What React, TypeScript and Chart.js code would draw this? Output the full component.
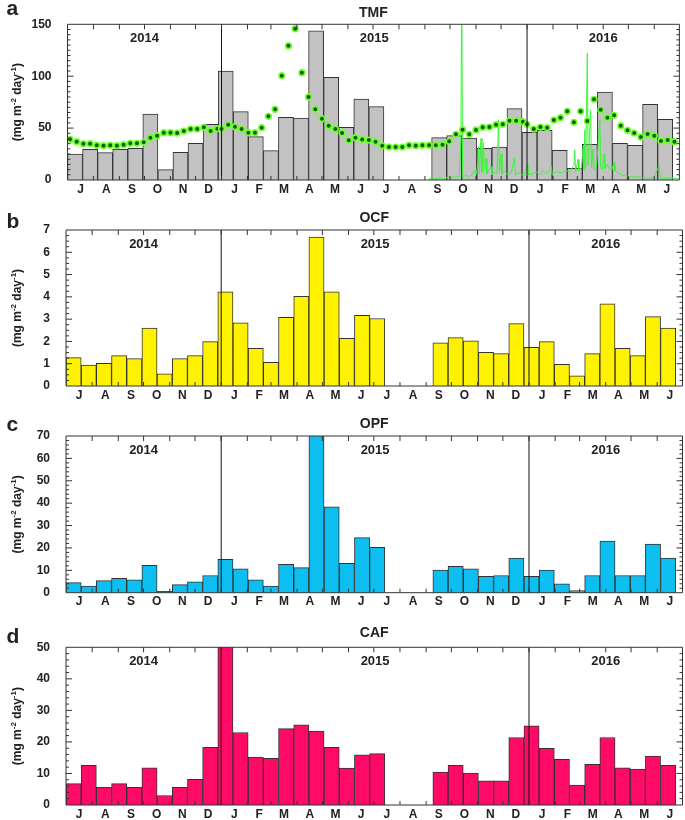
import React, { useEffect, useRef } from 'react';
import { Chart, registerables } from 'chart.js';

Chart.register(...registerables);

// ---- Time axis (days since 1 July 2014) ----
const monthStarts = [0, 31, 62, 92, 123, 153, 184, 215, 243, 274, 304, 335, 365, 396, 427, 457, 488, 518, 549, 580, 609, 640, 670, 701, 731];
const monthLabels = ['J', 'A', 'S', 'O', 'N', 'D', 'J', 'F', 'M', 'A', 'M', 'J', 'J', 'A', 'S', 'O', 'N', 'D', 'J', 'F', 'M', 'A', 'M', 'J'];
const yearStarts = [0, 184, 549, 731];
const yearLabels = ['2014', '2015', '2016'];

// ---- Sediment trap cups (mid-point of each sampling interval, days) ----
const cupMidDays = [
  9, 27, 45, 63, 81, 99, 117, 135, 153, 171, 189, 207, 225, 243, 261, 279, 297, 315, 333, 351, 369,
  444, 462, 480, 498, 516, 534, 552, 570, 588, 606, 624, 642, 660, 678, 696, 714,
];

const tmfValues = [
  25, 29.6, 26.3, 29.6, 30.5, 63.6, 10, 26.7, 35.3, 53.6, 105, 65.9, 41.8, 28.3, 60.4, 59.7, 143.6, 98.9, 50.8, 78, 70.7,
  40.8, 42.7, 40.5, 30.5, 31.8, 68.7, 45.9, 47.9, 28.6, 11.2, 34.4, 84.8, 35.3, 33.4, 72.9, 58.5,
];
const ocfValues = [
  1.27, 0.94, 1.02, 1.36, 1.23, 2.6, 0.55, 1.23, 1.36, 1.99, 4.22, 2.84, 1.69, 1.06, 3.08, 4.02, 6.68, 4.22, 2.14, 3.17, 3.03,
  1.94, 2.17, 2.03, 1.51, 1.45, 2.8, 1.73, 1.99, 0.97, 0.46, 1.45, 3.69, 1.69, 1.36, 3.11, 2.6,
];
const opfValues = [
  4.5, 3.0, 5.4, 6.4, 5.8, 12.2, 0.6, 3.6, 4.9, 7.7, 14.9, 10.7, 5.8, 3.0, 12.7, 11.2, 72, 38.4, 13.1, 24.6, 20.3,
  10.1, 11.8, 10.7, 7.3, 7.7, 15.5, 7.3, 10.1, 4.0, 1.0, 7.7, 23.1, 7.7, 7.7, 21.7, 15.5,
];
const cafValues = [
  6.8, 12.6, 5.6, 6.8, 5.6, 11.8, 3.0, 5.6, 8.1, 18.3, 52, 23.0, 15.2, 14.8, 24.2, 25.4, 23.4, 18.3, 11.7, 15.9, 16.3,
  10.4, 12.6, 10.1, 7.7, 7.7, 21.4, 25.1, 18.0, 14.5, 6.3, 12.9, 21.4, 11.8, 11.4, 15.5, 12.6,
];

// ---- 8-day composite series (green dots, TMF panel) ----
const dotDays = [
  3, 11, 19, 27, 35, 43, 51, 59, 67, 75, 83, 91, 99, 107, 115, 123, 131, 139, 147, 155, 163, 171, 179,
  184, 192, 200, 208, 216, 224, 232, 240, 248, 256, 264, 272, 280, 288, 296, 304, 312, 320, 328, 336, 344, 352, 360, 368,
  376, 384, 392, 400, 408, 416, 424, 432, 440, 448, 456, 464, 472, 480, 488, 496, 504, 512, 520, 528, 536, 544,
  549, 557, 565, 573, 581, 589, 597, 605, 613, 621, 629, 637, 645, 653, 661, 669, 677, 685, 693, 701, 709, 717, 725,
];
const dotValues = [
  39.2, 36.9, 35, 35, 33.4, 33.1, 33.4, 33.1, 34, 35.3, 35.3, 36.3, 40.8, 42.7, 45.6, 45.6, 45.2, 47.2, 49.1, 49.1, 50.7, 47.2, 49.4,
  49.1, 53.3, 51.4, 49.1, 45.6, 45.6, 50.4, 61.3, 68.1, 100.5, 129.4, 145.8, 103.4, 80, 68.1, 59.1, 52.3, 49.1, 45.3, 38.2, 40.8, 38.9,
  38.5, 36.9, 33, 31.8, 31.8, 31.8, 33.4, 33.1, 33.4, 33.4, 33.4, 34, 37.3, 44, 48.5, 44, 48.2, 50.7, 51, 53.3, 53.6, 57.1, 57.1, 56.2,
  53.6, 49.1, 51, 50.4, 57.8, 60, 66.2, 55.6, 66.2, 56.8, 77.7, 67.7, 60, 62.3, 52.3, 47.9, 45.3, 41.4, 44.3, 42.7, 37.6, 38.5, 36.9,
];

// ---- High-frequency series (thin green line, TMF panel) ----
const lineDays = [
  432, 436, 440, 445, 450, 455, 460, 464, 468, 470, 471, 472, 476, 480, 484, 486, 488, 490, 491, 492, 494, 495, 497, 498,
  500, 501, 504, 506, 507, 510, 513, 515, 516, 518, 519, 522, 526, 530, 534, 535, 540, 545, 550, 551, 556, 560, 564, 568,
  572, 578, 579, 584, 590, 596, 600, 605, 606, 607, 610, 611, 614, 616, 617, 618, 619, 621, 622, 625, 626, 628, 629, 632,
  636, 637, 639, 641, 642, 645, 647, 650, 653, 654, 658, 662, 667, 672, 680, 690, 700, 707, 708, 715, 722, 730,
];
const lineValues = [
  1, 2, 1, 2, 1.5, 3, 2, 4, 3, 37, 200, 3, 5, 3, 6, 9, 5, 14, 32, 6, 40, 7, 36, 9,
  21, 6, 10, 13, 5, 8, 6, 58, 7, 25, 6, 9, 5, 7, 21, 5, 7, 4, 15, 5, 6, 8, 5, 9,
  6, 13, 5, 8, 7, 9, 8, 14, 29, 8, 20, 9, 12, 32, 10, 48, 12, 122, 14, 67, 12, 30, 10, 13,
  58, 12, 10, 25, 11, 15, 12, 9, 17, 9, 7, 5, 4, 3, 3, 2, 2, 14, 2, 1.5, 2, 1,
];

const FONT = '"Liberation Sans", Arial, Helvetica, sans-serif';
const TEXT = '#222';

type Panel = {
  key: string;
  letter: string;
  title: string;
  values: number[];
  color: string;
  yMax: number;
  yStep: number;
  minorStep: number;
  canvasTop: number;
  canvasHeight: number;
  padTop: number;
  xAxisH: number;
  plotLeft: number;
  plotRight: number;
  letterY: number;
  titleGap: number;
  green?: boolean;
};

const W = 685;

const panels: Panel[] = [
  { key: 'tmf', letter: 'a', title: 'TMF', values: tmfValues, color: '#c2c2c2', yMax: 150, yStep: 50, minorStep: 5,
    canvasTop: 0, canvasHeight: 200, padTop: 24.3, xAxisH: 20, plotLeft: 67.5, plotRight: 682, letterY: 15, titleGap: 11.3, green: true },
  { key: 'ocf', letter: 'b', title: 'OCF', values: ocfValues, color: '#fff200', yMax: 7, yStep: 1, minorStep: 0.25,
    canvasTop: 200, canvasHeight: 205, padTop: 30, xAxisH: 19, plotLeft: 66, plotRight: 682.5, letterY: 28.3, titleGap: 12.3 },
  { key: 'opf', letter: 'c', title: 'OPF', values: opfValues, color: '#0cbff0', yMax: 70, yStep: 10, minorStep: 2,
    canvasTop: 405, canvasHeight: 207, padTop: 31, xAxisH: 19.3, plotLeft: 66, plotRight: 682.5, letterY: 25.7, titleGap: 12 },
  { key: 'caf', letter: 'd', title: 'CAF', values: cafValues, color: '#ff0a66', yMax: 50, yStep: 10, minorStep: 2,
    canvasTop: 612, canvasHeight: 208, padTop: 35.3, xAxisH: 15, plotLeft: 66, plotRight: 682.5, letterY: 31.3, titleGap: 14 },
];

function decorPlugin(p: Panel) {
  return {
    id: 'decor_' + p.key,
    afterDraw(chart: any) {
      const ctx: CanvasRenderingContext2D = chart.ctx;
      const { left, right, top, bottom } = chart.chartArea;
      const xs = chart.scales.x;
      const ys = chart.scales.y;
      ctx.save();

      // year separators
      ctx.strokeStyle = '#111';
      ctx.lineWidth = 1;
      ctx.beginPath();
      for (let i = 1; i < yearStarts.length - 1; i++) {
        const x = xs.getPixelForValue(yearStarts[i]);
        ctx.moveTo(x, top);
        ctx.lineTo(x, bottom);
      }
      ctx.stroke();

      // frame + ticks
      ctx.strokeStyle = '#333';
      ctx.lineWidth = 1;
      ctx.beginPath();
      ctx.rect(left, top, right - left, bottom - top);
      for (let i = 1; i < monthStarts.length - 1; i++) {
        const x = xs.getPixelForValue(monthStarts[i]);
        ctx.moveTo(x, top);
        ctx.lineTo(x, top + 5);
        ctx.moveTo(x, bottom);
        ctx.lineTo(x, bottom - 4);
      }
      const n = Math.round(p.yMax / p.minorStep);
      const per = Math.round(p.yStep / p.minorStep);
      for (let k = 1; k < n; k++) {
        const y = ys.getPixelForValue(k * p.minorStep);
        const len = k % per === 0 ? 6 : 3;
        ctx.moveTo(left, y);
        ctx.lineTo(left + len, y);
        ctx.moveTo(right, y);
        ctx.lineTo(right - len, y);
      }
      ctx.stroke();

      ctx.fillStyle = TEXT;
      // year labels
      ctx.font = `bold 13px ${FONT}`;
      ctx.textAlign = 'center';
      ctx.textBaseline = 'middle';
      for (let i = 0; i < yearLabels.length; i++) {
        const x = xs.getPixelForValue((yearStarts[i] + yearStarts[i + 1]) / 2);
        ctx.fillText(yearLabels[i], x, top + 14.5);
      }

      // title
      ctx.font = `bold 14px ${FONT}`;
      ctx.fillText(p.title, (left + right) / 2, top - p.titleGap);

      // panel letter
      ctx.font = `bold 21px ${FONT}`;
      ctx.textAlign = 'left';
      ctx.textBaseline = 'alphabetic';
      ctx.fillText(p.letter, 6.5, p.letterY);

      // y-axis title with superscripts
      const parts: [string, boolean][] = [['(mg m', false], ['-2', true], [' day', false], ['-1', true], [')', false]];
      const big = `bold 12px ${FONT}`;
      const small = `bold 8px ${FONT}`;
      let total = 0;
      const widths = parts.map(([t, sup]) => {
        ctx.font = sup ? small : big;
        const w = ctx.measureText(t).width;
        total += w;
        return w;
      });
      ctx.translate(17.5, (top + bottom) / 2);
      ctx.rotate(-Math.PI / 2);
      ctx.textBaseline = 'middle';
      let x = -total / 2;
      parts.forEach(([t, sup], i) => {
        ctx.font = sup ? small : big;
        ctx.fillText(t, x, sup ? -4 : 0);
        x += widths[i];
      });
      ctx.restore();
    },
  };
}

function PanelChart({ p }: { p: Panel }) {
  const ref = useRef<HTMLCanvasElement | null>(null);
  useEffect(() => {
    if (!ref.current) return;
    const datasets: any[] = [
      {
        type: 'bar',
        data: cupMidDays.map((d, i) => ({ x: d, y: p.values[i] })),
        backgroundColor: p.color,
        borderColor: '#333',
        borderWidth: 1,
        categoryPercentage: 1,
        barPercentage: 1,
        order: 3,
      },
    ];
    if (p.green) {
      datasets.push({
        type: 'line',
        data: lineDays.map((d, i) => ({ x: d, y: lineValues[i] })),
        borderColor: '#3cf53c',
        borderWidth: 1,
        pointRadius: 0,
        tension: 0,
        order: 2,
      });
      datasets.push({
        type: 'line',
        data: dotDays.map((d, i) => ({ x: d, y: dotValues[i] })),
        showLine: false,
        pointRadius: 2.8,
        pointBackgroundColor: '#0f5f12',
        pointBorderColor: '#6cff2a',
        pointBorderWidth: 1.6,
        order: 1,
      });
    }
    const monthMids = monthLabels.map((_, i) => (monthStarts[i] + monthStarts[i + 1]) / 2);
    const chart = new Chart(ref.current, {
      type: 'bar',
      data: { datasets },
      options: {
        animation: false,
        responsive: false,
        devicePixelRatio: window.devicePixelRatio || 1,
        layout: { padding: { top: p.padTop, left: 0, right: W - p.plotRight, bottom: 0 } },
        plugins: { legend: { display: false }, tooltip: { enabled: false } },
        events: [],
        scales: {
          x: {
            type: 'linear',
            min: monthStarts[0],
            max: monthStarts[monthStarts.length - 1],
            offset: false,
            grid: { display: false, drawTicks: false },
            border: { display: false },
            afterBuildTicks: (scale: any) => {
              scale.ticks = monthMids.map((v) => ({ value: v }));
            },
            afterFit: (scale: any) => {
              scale.height = p.xAxisH;
            },
            ticks: {
              autoSkip: false,
              maxRotation: 0,
              minRotation: 0,
              padding: 2,
              color: TEXT,
              font: { family: FONT, size: 12, weight: 'bold' },
              callback: (_v: any, i: number) => monthLabels[i],
            },
          },
          y: {
            type: 'linear',
            min: 0,
            max: p.yMax,
            grid: { display: false, drawTicks: true, tickLength: 16 },
            border: { display: false },
            afterFit: (scale: any) => {
              scale.width = p.plotLeft;
            },
            ticks: {
              stepSize: p.yStep,
              padding: 0,
              color: TEXT,
              font: { family: FONT, size: 12, weight: 'bold' },
            },
          },
        },
      } as any,
      plugins: [decorPlugin(p)],
    });
    return () => chart.destroy();
  }, [p]);
  return (
    <canvas
      ref={ref}
      width={W}
      height={p.canvasHeight}
      style={{ position: 'absolute', left: 0, top: p.canvasTop, width: W, height: p.canvasHeight }}
    />
  );
}

export default function App() {
  return (
    <div style={{ position: 'absolute', left: 0, top: 0, width: W, height: 820, background: '#fff', overflow: 'hidden' }}>
      {panels.map((p) => (
        <PanelChart key={p.key} p={p} />
      ))}
    </div>
  );
}
